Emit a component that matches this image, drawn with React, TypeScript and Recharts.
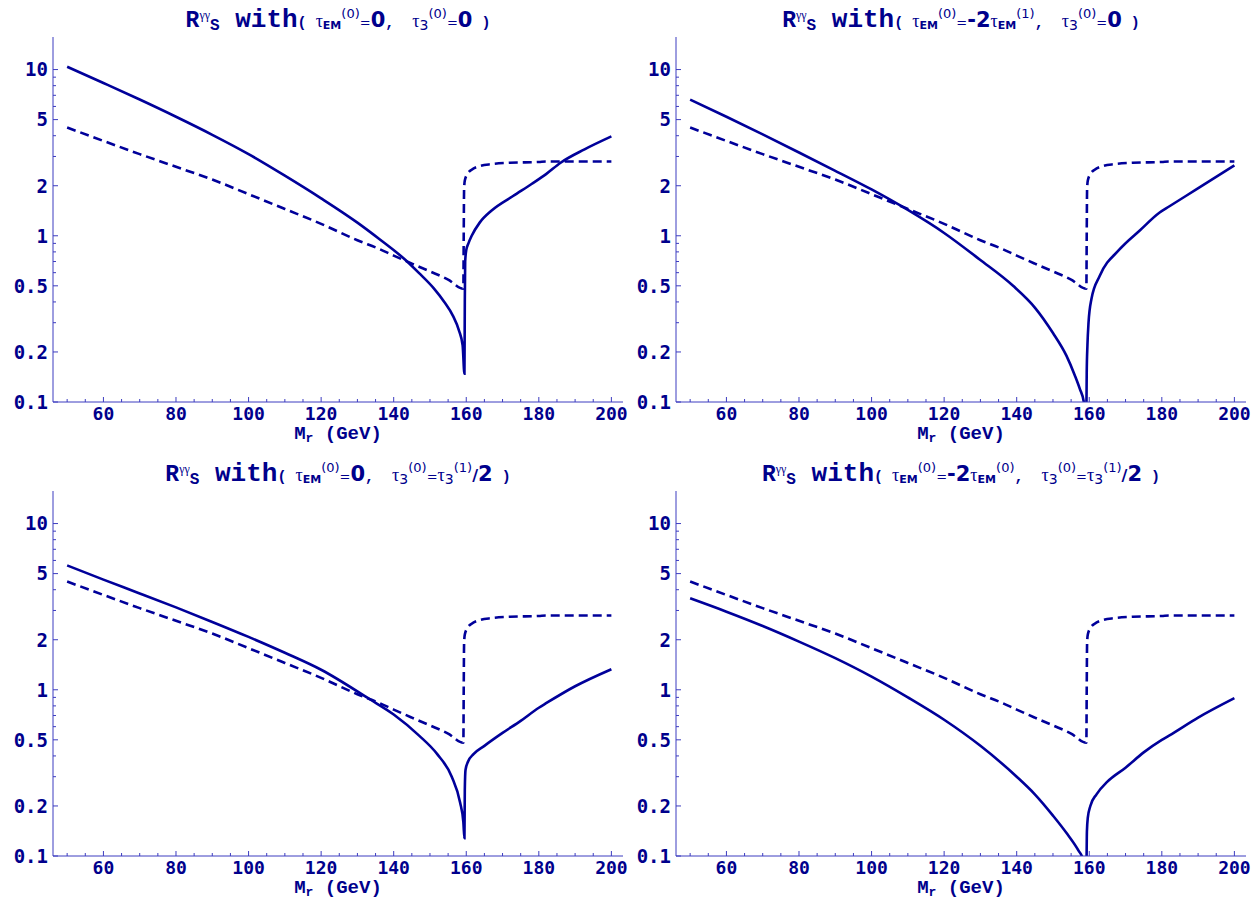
import React from 'react';
import { LineChart, Line, XAxis, YAxis } from 'recharts';

// ---------- data ----------
type P = [number, number];

const xTicks = [50, 55, 60, 65, 70, 75, 80, 85, 90, 95, 100, 105, 110, 115, 120, 125, 130, 135, 140, 145, 150, 155, 160, 165, 170, 175, 180, 185, 190, 195, 200];
const xLabelTicks = [60, 80, 100, 120, 140, 160, 180, 200];
const yTicks = [0.1, 0.2, 0.3, 0.4, 0.5, 0.6, 0.7, 0.8, 0.9, 1, 2, 3, 4, 5, 6, 7, 8, 9, 10];
const yLabelTicks = [0.1, 0.2, 0.5, 1, 2, 5, 10];

// dashed reference curve (same in every panel)
const dashedCurve: P[] = [
  [50, 4.48], [60, 3.72], [70, 3.1], [80, 2.6], [90, 2.18], [100, 1.78], [110, 1.45],
  [120, 1.18], [130, 0.94], [136.2, 0.83], [140, 0.76], [145, 0.68], [150, 0.61], [155, 0.545],
  [159.2, 0.48], [159.3, 1.0], [159.4, 1.9], [159.6, 2.15], [160.3, 2.35], [161.5, 2.5],
  [163.5, 2.62], [167, 2.7], [172, 2.75], [180, 2.78], [182, 2.8], [190, 2.8], [200, 2.8],
];

// solid curves
const solidTL: P[] = [
  [50, 10.4], [60, 8.3], [70, 6.6], [80, 5.2], [90, 4.05], [100, 3.1], [110, 2.3], [120, 1.68],
  [130, 1.2], [136.2, 0.95], [143.1, 0.72], [147, 0.596], [151, 0.484], [154, 0.398], [156.3, 0.331],
  [158, 0.269], [159, 0.219], [159.5, 0.148], [159.6, 0.4], [159.7, 0.7], [160, 0.82],
  [160.6, 0.9], [161.5, 1.0], [163.7, 1.2], [167, 1.42], [172.8, 1.73], [178, 2.05],
  [182, 2.35], [186, 2.75], [192.6, 3.31], [200, 3.96],
];
const solidTR: P[] = [
  [50, 6.6], [60, 5.2], [70, 4.07], [80, 3.17], [90, 2.46], [100, 1.9], [110, 1.43], [120, 1.04],
  [129.8, 0.72], [139, 0.5], [145, 0.37], [150, 0.26], [153.7, 0.19], [156, 0.145], [157.4, 0.12],
  [158.5, 0.1], [158.9, 0.085],
  [159.2, 0.085], [159.3, 0.15], [159.5, 0.22], [159.8, 0.3], [160.6, 0.416], [162.9, 0.574],
  [168.4, 0.83], [174, 1.08], [179.4, 1.38], [182, 1.5], [189.5, 1.9], [200, 2.65],
];
const solidBL: P[] = [
  [50, 5.6], [60, 4.6], [70, 3.8], [80, 3.13], [90, 2.56], [100, 2.08], [110, 1.67], [120, 1.32],
  [133.4, 0.877], [140, 0.71], [147, 0.53], [152, 0.41], [156, 0.3], [158.3, 0.21], [159.2, 0.16],
  [159.5, 0.128], [159.6, 0.25], [159.8, 0.33], [160.5, 0.37], [162, 0.41], [165, 0.46], [170, 0.55],
  [175, 0.65], [180, 0.78], [182, 0.83], [190, 1.05], [200, 1.33],
];
const solidBR: P[] = [
  [50, 3.55], [60, 2.95], [70, 2.42], [80, 1.95], [90, 1.55], [100, 1.2], [110, 0.9], [120, 0.66],
  [130, 0.46], [140, 0.3], [145, 0.235], [150, 0.175], [154, 0.135], [157, 0.108], [158.3, 0.095],
  [158.8, 0.08], [159.2, 0.08], [159.35, 0.14], [159.6, 0.17], [160.3, 0.2], [162, 0.235], [165, 0.28],
  [170, 0.34], [175, 0.42], [180, 0.5], [182, 0.53], [190, 0.68], [200, 0.89],
];

// ---------- styles ----------
const CURVE = '#00009a';
const TEXT = '#00008c';
const FRAME = '#3c3cc0';
const MONO = "'Liberation Mono', monospace";
const NUMF = "'DejaVu Sans Mono', monospace";
const SANS = "'DejaVu Sans', sans-serif";
const SERIF = "'Liberation Serif', serif";

const X_DOMAIN: [number, number] = [46.1, 203.2];
const Y_DOMAIN: [number, number] = [0.1, 15.7];

const CH_W = 629;
const CH_H = 449;

const BottomTick = (props: any) => {
  const { x, y, payload } = props;
  const v = payload.value;
  const major = xLabelTicks.includes(v);
  return (
    <g>
      <line x1={x} x2={x} y1={y} y2={y - (major ? 5 : 3)} stroke={FRAME} strokeWidth={1} />
      {major && (
        <text x={x} y={y + 18} textAnchor="middle" fill={TEXT} fontFamily={NUMF} fontWeight="bold" fontSize={18}>
          {v}
        </text>
      )}
    </g>
  );
};
const TopTick = (props: any) => {
  const { x, y, payload } = props;
  const major = xLabelTicks.includes(payload.value);
  return <line x1={x} x2={x} y1={y} y2={y + (major ? 5 : 3)} stroke={FRAME} strokeWidth={1} />;
};
const LeftTick = (props: any) => {
  const { x, y, payload } = props;
  const v = payload.value;
  const major = yLabelTicks.includes(v);
  return (
    <g>
      <line x1={x} x2={x + (major ? 5 : 3)} y1={y} y2={y} stroke={FRAME} strokeWidth={1} />
      {major && (
        <text x={x - 5} y={y} dy="0.36em" textAnchor="end" fill={TEXT} fontFamily={NUMF} fontWeight="bold" fontSize={19}>
          {String(v)}
        </text>
      )}
    </g>
  );
};
const RightTick = (props: any) => {
  const { x, y, payload } = props;
  const major = yLabelTicks.includes(payload.value);
  return <line x1={x} x2={x - (major ? 5 : 3)} y1={y} y2={y} stroke={FRAME} strokeWidth={1} />;
};

type Seg = { t: string; fs: number; sh?: number; ff?: string; fw?: string; dx?: number };

const RStart: Seg[] = [
  { t: 'R', fs: 23, ff: MONO, fw: 'bold' },
  { t: 'γγ', fs: 12, sh: -8, ff: SERIF },
  { t: 'S', fs: 16, sh: 3, ff: MONO, fw: 'bold' },
  { t: ' with', fs: 26, ff: MONO, fw: 'bold' },
  { t: '( ', fs: 15, ff: MONO, fw: 'bold' },
];
const tauEM = (sup: string): Seg[] => [
  { t: 'τ', fs: 18, ff: SERIF },
  { t: 'EM', fs: 11, sh: 2, ff: SANS, fw: 'bold' },
  { t: `(${sup})`, fs: 13, sh: -9, ff: SANS },
];
const tau3 = (sup: string): Seg[] => [
  { t: 'τ', fs: 18, ff: SERIF },
  { t: '3', fs: 14, sh: 3, ff: SANS },
  { t: `(${sup})`, fs: 13, sh: -9, ff: SANS },
];
const eq: Seg = { t: '=', fs: 13, ff: SANS };
const big = (t: string): Seg => ({ t, fs: 21, ff: SANS, fw: 'bold' });
const comma: Seg = { t: ',  ', fs: 15, ff: MONO, fw: 'bold' };
const close: Seg = { t: ' )', fs: 15, ff: MONO, fw: 'bold' };
const half: Seg[] = [{ t: '/', fs: 16, ff: SANS, fw: 'bold' }, { t: '2', fs: 21, ff: SANS, fw: 'bold' }];

const titleTL: Seg[] = [...RStart, ...tauEM('0'), eq, big('0'), comma, ...tau3('0'), eq, big('0'), close];
const titleTR: Seg[] = [...RStart, ...tauEM('0'), eq, big('-2'), ...tauEM('1'), comma, ...tau3('0'), eq, big('0'), close];
const titleBL: Seg[] = [...RStart, ...tauEM('0'), eq, big('0'), comma, ...tau3('0'), eq, ...tau3('1'), ...half, close];
const titleBR: Seg[] = [...RStart, ...tauEM('0'), eq, big('-2'), ...tauEM('0'), comma, ...tau3('0'), eq, ...tau3('1'), ...half, close];
const axisLabel: Seg[] = [
  { t: 'M', fs: 19, ff: MONO, fw: 'bold' },
  { t: 'r', fs: 13, sh: 3, ff: MONO, fw: 'bold' },
  { t: ' (GeV)', fs: 19, ff: MONO, fw: 'bold' },
];

const RichText = ({ x, y, segs }: { x: number; y: number; segs: Seg[] }) => {
  let prev = 0;
  return (
    <text x={x} y={y} textAnchor="middle" fill={TEXT} style={{ whiteSpace: 'pre' }}>
      {segs.map((s, i) => {
        const sh = s.sh || 0;
        const dy = sh - prev;
        prev = sh;
        return (
          <tspan key={i} dy={dy} dx={s.dx || 0} fontSize={s.fs} fontFamily={s.ff} fontWeight={s.fw || 'normal'}>
            {s.t}
          </tspan>
        );
      })}
    </text>
  );
};

const Panel = ({ left, top, solid }: { left: number; top: number; solid: P[] }) => {
  const solidData = solid.map(([x, y]) => ({ x, y }));
  const dashedData = dashedCurve.map(([x, y]) => ({ x, y }));
  return (
    <div style={{ position: 'absolute', left, top, width: CH_W, height: CH_H }}>
      <LineChart width={CH_W} height={CH_H} margin={{ top: 37, right: 6, bottom: 0, left: 0 }}>
        <XAxis
          xAxisId="b" type="number" dataKey="x" domain={X_DOMAIN} allowDataOverflow ticks={xTicks} interval={0}
          orientation="bottom" height={47} tickSize={0} tickMargin={0} tickLine={false}
          axisLine={{ stroke: FRAME, strokeWidth: 1 }} tick={<BottomTick />}
        />
        <XAxis
          xAxisId="t" type="number" dataKey="x" domain={X_DOMAIN} allowDataOverflow ticks={xTicks} interval={0}
          orientation="top" height={0} tickSize={0} tickMargin={0} tickLine={false}
          axisLine={{ stroke: FRAME, strokeWidth: 1 }} tick={<TopTick />}
        />
        <YAxis
          yAxisId="l" type="number" scale="log" domain={Y_DOMAIN} allowDataOverflow ticks={yTicks} interval={0}
          orientation="left" width={53} tickSize={0} tickMargin={0} tickLine={false}
          axisLine={{ stroke: FRAME, strokeWidth: 1 }} tick={<LeftTick />}
        />
        <YAxis
          yAxisId="r" type="number" scale="log" domain={Y_DOMAIN} allowDataOverflow ticks={yTicks} interval={0}
          orientation="right" width={0} tickSize={0} tickMargin={0} tickLine={false}
          axisLine={{ stroke: FRAME, strokeWidth: 1 }} tick={<RightTick />}
        />
        <Line
          xAxisId="b" yAxisId="l" data={dashedData} dataKey="y" type="monotone" stroke={CURVE}
          strokeWidth={2.6} strokeDasharray="9 5" dot={false} activeDot={false} isAnimationActive={false}
        />
        <Line
          xAxisId="b" yAxisId="l" data={solidData} dataKey="y" type="monotone" stroke={CURVE}
          strokeWidth={2.6} dot={false} activeDot={false} isAnimationActive={false}
        />
      </LineChart>
    </div>
  );
};

export default function App() {
  return (
    <div style={{ position: 'absolute', left: 0, top: 0, width: 1258, height: 899, background: '#fff' }}>
      <Panel left={0} top={0} solid={solidTL} />
      <Panel left={623} top={0} solid={solidTR} />
      <Panel left={0} top={454} solid={solidBL} />
      <Panel left={623} top={454} solid={solidBR} />
      <svg width={1258} height={899} style={{ position: 'absolute', left: 0, top: 0, pointerEvents: 'none' }}>
        <RichText x={338} y={27} segs={titleTL} />
        <RichText x={961} y={27} segs={titleTR} />
        <RichText x={338} y={481} segs={titleBL} />
        <RichText x={961} y={481} segs={titleBR} />
        <RichText x={338} y={439} segs={axisLabel} />
        <RichText x={961} y={439} segs={axisLabel} />
        <RichText x={338} y={893} segs={axisLabel} />
        <RichText x={961} y={893} segs={axisLabel} />
      </svg>
    </div>
  );
}
